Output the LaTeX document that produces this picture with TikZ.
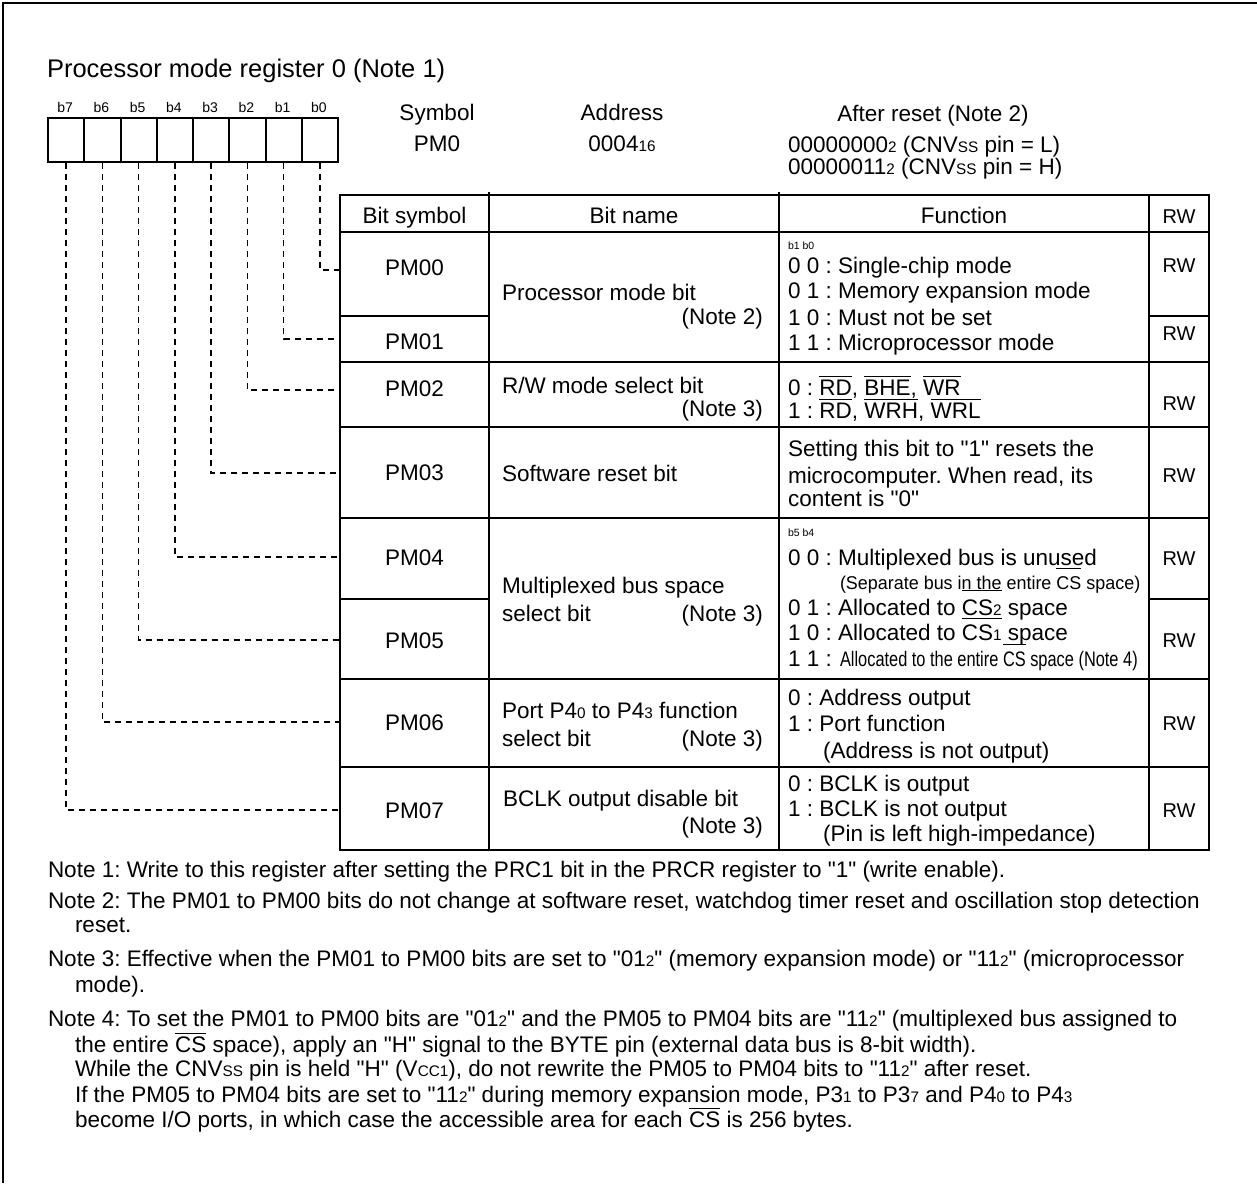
\documentclass[tikz,border=0pt]{standalone}
\usepackage{fontspec}
\setmainfont{Liberation Sans}[Ligatures=TeXOff]
\usepackage{graphicx}
% overlined signal names: optional argument is the height of the bar above the baseline
\newlength\ovlw
\newcommand\ovl[2][0.8em]{\settowidth\ovlw{#2}\rlap{\rule[#1]{\ovlw}{0.055em}}#2}
% small index digits set on the baseline
\newcommand\lo[1]{\scalebox{0.68}{#1}}
\newcommand\fsz[1]{\fontsize{#1}{#1}\selectfont}

\tikzset{
  txt/.style={inner sep=0pt, outer sep=0pt, font=\fsz{22.5}},
  lt/.style={txt, anchor=base west},
  ct/.style={txt, anchor=base},
  rt/.style={txt, anchor=base east},
  rwtext/.style={txt, anchor=base, font=\fsz{20}},
  bitcode/.style={lt, font=\fsz{10.5}},
  bitlbl/.style={txt, anchor=base, font=\fsz{14}},
  regbox/.style={draw, line width=2pt, minimum width=36.25pt, minimum height=44pt,
                 anchor=north west, inner sep=0pt},
  tline/.style={line width=1.4pt},
  tframe/.style={line width=2.2pt},
  leader/.style={line width=1.5pt, dash pattern=on 6pt off 5pt},
}

\begin{document}
\frenchspacing
\begin{tikzpicture}[x=1pt, y=-1pt]
\useasboundingbox (0,0) rectangle (1257,1183);

% page frame
\draw[line width=2.5pt] (3,1183) -- (3,3) -- (1257,3);

% title
\node[lt, font=\fsz{25.5}] (title) at (47,77) {Processor mode register 0 (Note 1)};

% register bit boxes, bit labels and leader lines to the table rows
\foreach \i/\yy in {0/270,1/339,2/390,3/473,4/557,5/640,6/722,7/810} {
  \node[regbox] (box\i) at ({47+36.25*(7-\i)},117) {};
  \node[bitlbl] (lbl\i) at ({65.1+36.25*(7-\i)},112) {b\i};
  \coordinate (in\i) at (340,\yy);
  \draw[leader] (box\i.south) |- (in\i);
}

% symbol / address / reset value
\node[ct] (symh) at (437,120) {Symbol};
\node[ct] (symv) at (437,151) {PM0};
\node[ct] (adrh) at (622,120) {Address};
\node[ct] (adrv) at (622,151) {0004\lo{16}};
\node[ct] (rsth) at (933,121) {After reset (Note 2)};
\node[lt] (rstl) at (788,152) {00000000\lo{2} (CNV\lo{SS} pin = L)};
\node[lt] (rsthi) at (788,174) {00000011\lo{2} (CNV\lo{SS} pin = H)};

% table rulings
\draw[tline] (489,192) -- (489,850) (779,192) -- (779,850) (1149,195) -- (1149,850);
\draw[tline] (340,232) -- (1209,232);
\draw[tline] (340,316) -- (489,316) (1149,316) -- (1209,316);
\draw[tline] (340,362) -- (1209,362);
\draw[tline] (340,427) -- (1209,427);
\draw[tline] (340,518) -- (1209,518);
\draw[tline] (340,599) -- (489,599) (1149,599) -- (1209,599);
\draw[tline] (340,679) -- (1209,679);
\draw[tline] (340,767) -- (1209,767);
\draw[tframe] (340,195) rectangle (1209,850);

% header row
\node[ct] (hsym) at (414.5,223) {Bit symbol};
\node[ct] (hname) at (634,223) {Bit name};
\node[ct] (hfunc) at (964,223) {Function};
\node[rwtext] (hrw) at (1179,223) {RW};

% bit symbols
\node[ct] (s0) at (414.5,275) {PM00};
\node[ct] (s1) at (414.5,349) {PM01};
\node[ct] (s2) at (414.5,396) {PM02};
\node[ct] (s3) at (414.5,480) {PM03};
\node[ct] (s4) at (414.5,565) {PM04};
\node[ct] (s5) at (414.5,648) {PM05};
\node[ct] (s6) at (414.5,730) {PM06};
\node[ct] (s7) at (414.5,818) {PM07};

% bit names
\node[lt] (n01a) at (502,300) {Processor mode bit};
\node[rt] (n01b) at (763,324) {(Note 2)};
\node[lt] (n2a) at (502,393) {R/W mode select bit};
\node[rt] (n2b) at (763,416) {(Note 3)};
\node[lt] (n3) at (502,481) {Software reset bit};
\node[lt] (n45a) at (502,593) {Multiplexed bus space};
\node[lt] (n45b) at (502,621) {select bit};
\node[rt] (n45c) at (763,621) {(Note 3)};
\node[lt] (n6a) at (502,718) {Port P4\lo{0} to P4\lo{3} function};
\node[lt] (n6b) at (502,746) {select bit};
\node[rt] (n6c) at (763,746) {(Note 3)};
\node[lt] (n7a) at (503,806) {BCLK output disable bit};
\node[rt] (n7b) at (763,833) {(Note 3)};

% functions
\node[bitcode] (f01h) at (788,249) {b1 b0};
\node[lt] (f01a) at (788,273) {0 0 : Single-chip mode};
\node[lt] (f01b) at (788,298) {0 1 : Memory expansion mode};
\node[lt] (f01c) at (788,325) {1 0 : Must not be set};
\node[lt] (f01d) at (788,350) {1 1 : Microprocessor mode};
\node[lt] (f2a) at (788,395) {0 : \ovl{RD}, \ovl{BHE}, \ovl{WR}};
\node[lt] (f2b) at (788,418) {1 : \ovl{RD}, \ovl{WRH}, \ovl{WRL}};
\node[lt] (f3a) at (788,456) {Setting this bit to "1" resets the};
\node[lt] (f3b) at (788,483) {microcomputer. When read, its};
\node[lt] (f3c) at (788,506) {content is "0"};
\node[bitcode] (f45h) at (788,536) {b5 b4};
\node[lt] (f45a) at (788,565) {0 0 : Multiplexed bus is unused};
\node[lt, font=\fsz{18.5}] (f45b) at (840,589)
  {\scalebox{0.97}[1]{(Separate bus in the entire \ovl[1.08em]{CS} space)}};
\node[lt] (f45c) at (788,615) {0 1 : Allocated to \ovl[1.07em]{CS\lo{2}} space};
\node[lt] (f45d) at (788,640) {1 0 : Allocated to \ovl[0.94em]{CS\lo{1}} space};
\node[lt] (f45e) at (788,666) {1 1 :};
\node[lt, font=\fsz{21}] (f45f) at (840,666)
  {\scalebox{0.78}[1]{Allocated to the entire \ovl[1.0em]{CS} space (Note 4)}};
\node[lt] (f6a) at (788,705) {0 : Address output};
\node[lt] (f6b) at (788,731) {1 : Port function};
\node[lt] (f6c) at (823,758) {(Address is not output)};
\node[lt] (f7a) at (788,791) {0 : BCLK is output};
\node[lt] (f7b) at (788,816) {1 : BCLK is not output};
\node[lt] (f7c) at (823,841) {(Pin is left high-impedance)};

% access column
\node[rwtext] (r0) at (1179,272) {RW};
\node[rwtext] (r1) at (1179,340) {RW};
\node[rwtext] (r2) at (1179,410) {RW};
\node[rwtext] (r3) at (1179,482) {RW};
\node[rwtext] (r4) at (1179,565) {RW};
\node[rwtext] (r5) at (1179,647) {RW};
\node[rwtext] (r6) at (1179,730) {RW};
\node[rwtext] (r7) at (1179,817) {RW};

% notes
\node[lt] (note1) at (48,877) {Note 1: Write to this register after setting the PRC1 bit in the PRCR register to "1" (write enable).};
\node[lt] (note2a) at (48,908) {Note 2: The PM01 to PM00 bits do not change at software reset, watchdog timer reset and oscillation stop detection};
\node[lt] (note2b) at (75,932) {reset.};
\node[lt] (note3a) at (48,966) {Note 3: Effective when the PM01 to PM00 bits are set to "01\lo{2}" (memory expansion mode) or "11\lo{2}" (microprocessor};
\node[lt] (note3b) at (75,992) {mode).};
\node[lt] (note4a) at (48,1026) {Note 4: To set the PM01 to PM00 bits are "01\lo{2}" and the PM05 to PM04 bits are "11\lo{2}" (multiplexed bus assigned to};
\node[lt] (note4b) at (75,1052) {the entire \ovl{CS} space), apply an "H" signal to the BYTE pin (external data bus is 8-bit width).};
\node[lt] (note4c) at (75,1076) {While the CNV\lo{SS} pin is held "H" (V\lo{CC1}), do not rewrite the PM05 to PM04 bits to "11\lo{2}" after reset.};
\node[lt] (note4d) at (75,1102) {If the PM05 to PM04 bits are set to "11\lo{2}" during memory expansion mode, P3\lo{1} to P3\lo{7} and P4\lo{0} to P4\lo{3}};
\node[lt] (note4e) at (75,1127) {become I/O ports, in which case the accessible area for each \ovl{CS} is 256 bytes.};
\end{tikzpicture}
\end{document}
